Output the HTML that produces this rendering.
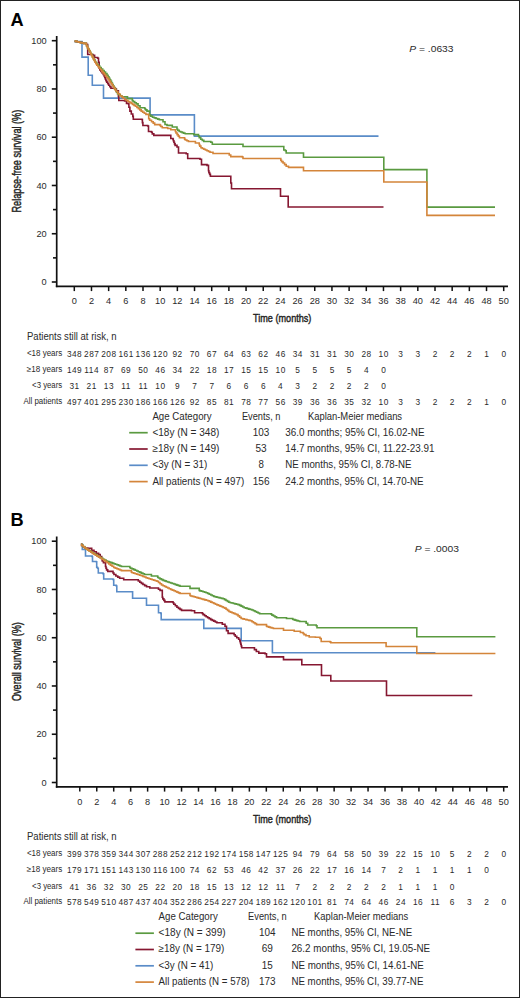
<!DOCTYPE html>
<html><head><meta charset="utf-8"><title>Kaplan-Meier</title>
<style>
html,body{margin:0;padding:0;background:#fff;}
body{width:520px;height:998px;overflow:hidden;}
svg{display:block;font-family:"Liberation Sans",sans-serif;}
text{fill:#2a2a2a;}
</style></head><body>
<svg width="520" height="998" viewBox="0 0 520 998">
<rect x="0.5" y="0.5" width="519" height="997" fill="#fff" stroke="#222" stroke-width="1"/>
<text x="10.6" y="25.6" font-size="18.2" font-weight="bold" style="fill:#000" >A</text>
<path d="M56.7 36V287.15" stroke="#111" stroke-width="1.7" fill="none"/>
<path d="M55.85 286.3H508" stroke="#111" stroke-width="1.7" fill="none"/>
<path d="M51.8 282H56.7" stroke="#111" stroke-width="1.6"/>
<text x="46.7" y="285.2" font-size="9.2" text-anchor="end" >0</text>
<path d="M53 257.87H56.7" stroke="#111" stroke-width="1.6"/>
<path d="M51.8 233.74H56.7" stroke="#111" stroke-width="1.6"/>
<text x="46.7" y="236.94" font-size="9.2" text-anchor="end" >20</text>
<path d="M53 209.61H56.7" stroke="#111" stroke-width="1.6"/>
<path d="M51.8 185.48H56.7" stroke="#111" stroke-width="1.6"/>
<text x="46.7" y="188.68" font-size="9.2" text-anchor="end" >40</text>
<path d="M53 161.35H56.7" stroke="#111" stroke-width="1.6"/>
<path d="M51.8 137.22H56.7" stroke="#111" stroke-width="1.6"/>
<text x="46.7" y="140.42" font-size="9.2" text-anchor="end" >60</text>
<path d="M53 113.09H56.7" stroke="#111" stroke-width="1.6"/>
<path d="M51.8 88.96H56.7" stroke="#111" stroke-width="1.6"/>
<text x="46.7" y="92.16" font-size="9.2" text-anchor="end" >80</text>
<path d="M53 64.83H56.7" stroke="#111" stroke-width="1.6"/>
<path d="M51.8 40.7H56.7" stroke="#111" stroke-width="1.6"/>
<text x="46.7" y="43.9" font-size="9.2" text-anchor="end" >100</text>
<path d="M74.3 286.3V291.1" stroke="#111" stroke-width="1.5"/>
<text x="74.3" y="304.3" font-size="9.2" text-anchor="middle" >0</text>
<path d="M91.48 286.3V291.1" stroke="#111" stroke-width="1.5"/>
<text x="91.48" y="304.3" font-size="9.2" text-anchor="middle" >2</text>
<path d="M108.65 286.3V291.1" stroke="#111" stroke-width="1.5"/>
<text x="108.65" y="304.3" font-size="9.2" text-anchor="middle" >4</text>
<path d="M125.83 286.3V291.1" stroke="#111" stroke-width="1.5"/>
<text x="125.83" y="304.3" font-size="9.2" text-anchor="middle" >6</text>
<path d="M143 286.3V291.1" stroke="#111" stroke-width="1.5"/>
<text x="143" y="304.3" font-size="9.2" text-anchor="middle" >8</text>
<path d="M160.18 286.3V291.1" stroke="#111" stroke-width="1.5"/>
<text x="160.18" y="304.3" font-size="9.2" text-anchor="middle" >10</text>
<path d="M177.36 286.3V291.1" stroke="#111" stroke-width="1.5"/>
<text x="177.36" y="304.3" font-size="9.2" text-anchor="middle" >12</text>
<path d="M194.53 286.3V291.1" stroke="#111" stroke-width="1.5"/>
<text x="194.53" y="304.3" font-size="9.2" text-anchor="middle" >14</text>
<path d="M211.71 286.3V291.1" stroke="#111" stroke-width="1.5"/>
<text x="211.71" y="304.3" font-size="9.2" text-anchor="middle" >16</text>
<path d="M228.88 286.3V291.1" stroke="#111" stroke-width="1.5"/>
<text x="228.88" y="304.3" font-size="9.2" text-anchor="middle" >18</text>
<path d="M246.06 286.3V291.1" stroke="#111" stroke-width="1.5"/>
<text x="246.06" y="304.3" font-size="9.2" text-anchor="middle" >20</text>
<path d="M263.24 286.3V291.1" stroke="#111" stroke-width="1.5"/>
<text x="263.24" y="304.3" font-size="9.2" text-anchor="middle" >22</text>
<path d="M280.41 286.3V291.1" stroke="#111" stroke-width="1.5"/>
<text x="280.41" y="304.3" font-size="9.2" text-anchor="middle" >24</text>
<path d="M297.59 286.3V291.1" stroke="#111" stroke-width="1.5"/>
<text x="297.59" y="304.3" font-size="9.2" text-anchor="middle" >26</text>
<path d="M314.76 286.3V291.1" stroke="#111" stroke-width="1.5"/>
<text x="314.76" y="304.3" font-size="9.2" text-anchor="middle" >28</text>
<path d="M331.94 286.3V291.1" stroke="#111" stroke-width="1.5"/>
<text x="331.94" y="304.3" font-size="9.2" text-anchor="middle" >30</text>
<path d="M349.12 286.3V291.1" stroke="#111" stroke-width="1.5"/>
<text x="349.12" y="304.3" font-size="9.2" text-anchor="middle" >32</text>
<path d="M366.29 286.3V291.1" stroke="#111" stroke-width="1.5"/>
<text x="366.29" y="304.3" font-size="9.2" text-anchor="middle" >34</text>
<path d="M383.47 286.3V291.1" stroke="#111" stroke-width="1.5"/>
<text x="383.47" y="304.3" font-size="9.2" text-anchor="middle" >36</text>
<path d="M400.64 286.3V291.1" stroke="#111" stroke-width="1.5"/>
<text x="400.64" y="304.3" font-size="9.2" text-anchor="middle" >38</text>
<path d="M417.82 286.3V291.1" stroke="#111" stroke-width="1.5"/>
<text x="417.82" y="304.3" font-size="9.2" text-anchor="middle" >40</text>
<path d="M435 286.3V291.1" stroke="#111" stroke-width="1.5"/>
<text x="435" y="304.3" font-size="9.2" text-anchor="middle" >42</text>
<path d="M452.17 286.3V291.1" stroke="#111" stroke-width="1.5"/>
<text x="452.17" y="304.3" font-size="9.2" text-anchor="middle" >44</text>
<path d="M469.35 286.3V291.1" stroke="#111" stroke-width="1.5"/>
<text x="469.35" y="304.3" font-size="9.2" text-anchor="middle" >46</text>
<path d="M486.52 286.3V291.1" stroke="#111" stroke-width="1.5"/>
<text x="486.52" y="304.3" font-size="9.2" text-anchor="middle" >48</text>
<path d="M503.7 286.3V291.1" stroke="#111" stroke-width="1.5"/>
<text x="503.7" y="304.3" font-size="9.2" text-anchor="middle" >50</text>
<text x="253" y="322.3" font-size="11.6"  stroke="#231f20" stroke-width="0.45" textLength="58.4" lengthAdjust="spacingAndGlyphs">Time (months)</text>
<text x="0" y="0" font-size="12.2" font-weight="normal" textLength="102.8" lengthAdjust="spacingAndGlyphs" transform="translate(21.0 212.5) rotate(-90)" stroke="#231f20" stroke-width="0.45">Relapse-free survival (%)</text>
<text x="409.3" y="51.9" font-size="9.6" textLength="44.2" lengthAdjust="spacingAndGlyphs"><tspan font-style="italic">P</tspan> = .0633</text>
<path d="M74.6 41.6H82V41.6H82V57.1H88.2V57.1H88.2V75.2H92.3V75.2H92.3V85.2H103.5V85.2H103.5V98.1H150.1V98.1H150.1V114.9H194.4V114.9H194.4V136.1H378.5V136.1" fill="none" stroke="#5a8cc8" stroke-width="1.6" stroke-linejoin="miter" stroke-linecap="butt"/>
<path d="M74.6 41H75.43V41.4H77.1V41.8H78.77V42.2H80.43V42.6H82.1V43H83.77V43.4H84.6H86.5V44.5H87.7V54.5H93V55.2H94.6V57.5H97.7V58.3H98.5V62.2H99.2V68.3H99.78V69.85H100.92V71.4H102.08V72.95H103.22V74.5H103.8H104.1V76.03H104.7V77.55H105.3V79.07H105.9V80.6H106.2H106.7V82.13H107.7V83.67H108.7V85.2H109.2H109.78V86.75H110.92V88.3H111.5H115.4V89H116.4V90.9H118.4V96.7H118.8V100.5H124.6V101H126.5V103.4H128.5V103.9H128.9V107.2H129.9V111.1H131.3V114H132.8V116.4H133.3V119.3H141.9V119.5H142.4V122.6H142.9V125.5H147.7V126H148.5V131.5H151.5V132.3H152.28V133.85H153.82V135.4H154.6H170V135.4H170.8V138.5H173V139.2H173.3V140.75H173.9V142.3H174.5V143.85H175.1V145.4H175.4H177V147H178.5V153H186.2V153.8H187.7V158.5H200V159.2H201.5V164.6H207V165.4H208.5V170.8H208.88V172.6H209.65V174.4H210.42V176.2H210.8H230V176.2H230.8V183H231.5V188.8H280V188.8H280.5V196.2H287.7V196.2H288.2V207H383.5V207" fill="none" stroke="#861731" stroke-width="1.6" stroke-linejoin="miter" stroke-linecap="butt"/>
<path d="M74.6 41H75.43V41.4H77.1V41.8H78.77V42.2H80.43V42.6H82.1V43H83.77V43.4H84.6H86.2V44.5H86.62V46.04H87.45V47.58H88.28V49.12H89.12V50.67H89.95V52.21H90.78V53.75H91.62V55.29H92.45V56.83H93.28V58.38H94.12V59.92H94.95V61.46H95.78V63H96.2H96.92V64.53H98.36V66.05H99.79V67.58H101.23V69.1H102.67V70.62H104.11V72.15H105.54V73.67H106.98V75.2H107.7H108.12V76.75H108.98V78.3H109.83V79.85H110.67V81.4H111.53V82.95H112.38V84.5H113.23V86.05H114.08V87.6H114.93V89.15H115.78V90.7H116.62V92.25H117.48V93.8H117.9H118.7V94.77H120.3V95.73H121.9V96.7H122.7H127.5V98.6H132.3V100.5H133.1V101.63H134.7V102.77H136.3V103.9H137.1H138.07V105.8H140.03V107.7H141H144.8V108.7H145.53V109.9H146.97V111.1H147.7H149.6V114.9H150.57V116.1H152.53V117.3H153.5H154.34V117.9H156.01V118.5H157.69V119.1H159.36V119.7H160.2H163V121.7H165V124.5H167V125.4H172.3V127H177V129.2H177.75V130.35H179.25V131.5H180H180.75V132.07H182.25V132.65H183.75V133.23H185.25V133.8H186H193.8V134.6H198.5V136H199.25V137.6H200.75V139.2H201.5H202.28V140.35H203.82V141.5H204.6H210.8V142.3H212.3V144.3H242.3V144.3H243V146.5H282.3V146.5H283.8V150H285.4V150.8H286.2V153H303V153H303.5V157.2H383.8V157.2H383.8V169.6H426.7V169.6H426.9V207.1H495V207.1" fill="none" stroke="#5a9a40" stroke-width="1.6" stroke-linejoin="miter" stroke-linecap="butt"/>
<path d="M74.6 41H75.43V41.4H77.1V41.8H78.77V42.2H80.43V42.6H82.1V43H83.77V43.4H84.6H86.2V44.5H86.62V46.1H87.45V47.7H88.28V49.3H89.12V50.9H89.95V52.5H90.78V54.1H91.62V55.7H92.45V57.3H93.28V58.9H94.12V60.5H94.95V62.1H95.78V63.7H96.2H96.81V65.23H98.05V66.76H99.28V68.29H100.5V69.82H101.73V71.35H102.97V72.88H104.2V74.41H105.42V75.94H106.66V77.47H107.89V79H108.5H109.03V80.6H110.08V82.2H111.12V83.8H112.17V85.4H113.23V87H114.28V88.6H115.33V90.2H116.38V91.8H116.9H117.88V93.75H119.83V95.7H120.8H121.6V96.97H123.2V98.23H124.8V99.5H125.6H126.4V100.47H128V101.43H129.6V102.4H130.4H131.12V103.38H132.57V104.35H134.03V105.33H135.47V106.3H136.2H136.91V107.5H138.34V108.7H139.76V109.9H141.19V111.1H141.9H142.7V112.2H144.3V113.3H145.9V114.4H146.7H148.7V118.8H149.65V120.25H151.55V121.7H152.5H153.22V123.15H154.68V124.6H155.4H160V125.4H160.75V126.55H162.25V127.7H163H167.7V128.5H170.8V129.7H175.4V131.5H175.97V133.05H177.12V134.6H177.7H178.27V136.15H179.43V137.7H180H184.6V139.2H185.37V139.97H186.9V140.73H188.43V141.5H189.2H195.4V143H199.2V144.6H199.77V146.15H200.93V147.7H201.5H202.28V148.47H203.85V149.23H205.42V150H206.2H206.97V150.77H208.5V151.53H210.03V152.3H210.8H213V153.5H228.5V153.5H229.25V155.05H230.75V156.6H231.5H242.3V157H243V158.5H279.2V158.5H280.8V160.3H281.55V161.65H283.05V163H283.8H284.6V164.6H286.2V166.2H287H288.5V167.4H303V167.4H303.5V170.8H383.8V170.8H383.8V182H426.7V182H426.9V215.4H495V215.4" fill="none" stroke="#d4853a" stroke-width="1.6" stroke-linejoin="miter" stroke-linecap="butt"/>
<text x="27" y="339.6" font-size="10"  textLength="89.6" lengthAdjust="spacingAndGlyphs">Patients still at risk, n</text>
<text x="62.2" y="355.5" font-size="8.3" text-anchor="end"  textLength="35.3" lengthAdjust="spacingAndGlyphs">&lt;18 years</text>
<text x="74.55" y="356.6" font-size="8.3" text-anchor="middle" letter-spacing="0.5">348</text>
<text x="91.73" y="356.6" font-size="8.3" text-anchor="middle" letter-spacing="0.5">287</text>
<text x="108.9" y="356.6" font-size="8.3" text-anchor="middle" letter-spacing="0.5">208</text>
<text x="126.08" y="356.6" font-size="8.3" text-anchor="middle" letter-spacing="0.5">161</text>
<text x="143.25" y="356.6" font-size="8.3" text-anchor="middle" letter-spacing="0.5">136</text>
<text x="160.43" y="356.6" font-size="8.3" text-anchor="middle" letter-spacing="0.5">120</text>
<text x="177.61" y="356.6" font-size="8.3" text-anchor="middle" letter-spacing="0.5">92</text>
<text x="194.78" y="356.6" font-size="8.3" text-anchor="middle" letter-spacing="0.5">70</text>
<text x="211.96" y="356.6" font-size="8.3" text-anchor="middle" letter-spacing="0.5">67</text>
<text x="229.13" y="356.6" font-size="8.3" text-anchor="middle" letter-spacing="0.5">64</text>
<text x="246.31" y="356.6" font-size="8.3" text-anchor="middle" letter-spacing="0.5">63</text>
<text x="263.49" y="356.6" font-size="8.3" text-anchor="middle" letter-spacing="0.5">62</text>
<text x="280.66" y="356.6" font-size="8.3" text-anchor="middle" letter-spacing="0.5">46</text>
<text x="297.84" y="356.6" font-size="8.3" text-anchor="middle" letter-spacing="0.5">34</text>
<text x="315.01" y="356.6" font-size="8.3" text-anchor="middle" letter-spacing="0.5">31</text>
<text x="332.19" y="356.6" font-size="8.3" text-anchor="middle" letter-spacing="0.5">31</text>
<text x="349.37" y="356.6" font-size="8.3" text-anchor="middle" letter-spacing="0.5">30</text>
<text x="366.54" y="356.6" font-size="8.3" text-anchor="middle" letter-spacing="0.5">28</text>
<text x="383.72" y="356.6" font-size="8.3" text-anchor="middle" letter-spacing="0.5">10</text>
<text x="400.89" y="356.6" font-size="8.3" text-anchor="middle" letter-spacing="0.5">3</text>
<text x="418.07" y="356.6" font-size="8.3" text-anchor="middle" letter-spacing="0.5">3</text>
<text x="435.25" y="356.6" font-size="8.3" text-anchor="middle" letter-spacing="0.5">2</text>
<text x="452.42" y="356.6" font-size="8.3" text-anchor="middle" letter-spacing="0.5">2</text>
<text x="469.6" y="356.6" font-size="8.3" text-anchor="middle" letter-spacing="0.5">2</text>
<text x="486.77" y="356.6" font-size="8.3" text-anchor="middle" letter-spacing="0.5">1</text>
<text x="503.95" y="356.6" font-size="8.3" text-anchor="middle" letter-spacing="0.5">0</text>
<text x="62.2" y="371.7" font-size="8.3" text-anchor="end"  textLength="35.4" lengthAdjust="spacingAndGlyphs">≥18 years</text>
<text x="74.55" y="372.8" font-size="8.3" text-anchor="middle" letter-spacing="0.5">149</text>
<text x="91.73" y="372.8" font-size="8.3" text-anchor="middle" letter-spacing="0.5">114</text>
<text x="108.9" y="372.8" font-size="8.3" text-anchor="middle" letter-spacing="0.5">87</text>
<text x="126.08" y="372.8" font-size="8.3" text-anchor="middle" letter-spacing="0.5">69</text>
<text x="143.25" y="372.8" font-size="8.3" text-anchor="middle" letter-spacing="0.5">50</text>
<text x="160.43" y="372.8" font-size="8.3" text-anchor="middle" letter-spacing="0.5">46</text>
<text x="177.61" y="372.8" font-size="8.3" text-anchor="middle" letter-spacing="0.5">34</text>
<text x="194.78" y="372.8" font-size="8.3" text-anchor="middle" letter-spacing="0.5">22</text>
<text x="211.96" y="372.8" font-size="8.3" text-anchor="middle" letter-spacing="0.5">18</text>
<text x="229.13" y="372.8" font-size="8.3" text-anchor="middle" letter-spacing="0.5">17</text>
<text x="246.31" y="372.8" font-size="8.3" text-anchor="middle" letter-spacing="0.5">15</text>
<text x="263.49" y="372.8" font-size="8.3" text-anchor="middle" letter-spacing="0.5">15</text>
<text x="280.66" y="372.8" font-size="8.3" text-anchor="middle" letter-spacing="0.5">10</text>
<text x="297.84" y="372.8" font-size="8.3" text-anchor="middle" letter-spacing="0.5">5</text>
<text x="315.01" y="372.8" font-size="8.3" text-anchor="middle" letter-spacing="0.5">5</text>
<text x="332.19" y="372.8" font-size="8.3" text-anchor="middle" letter-spacing="0.5">5</text>
<text x="349.37" y="372.8" font-size="8.3" text-anchor="middle" letter-spacing="0.5">5</text>
<text x="366.54" y="372.8" font-size="8.3" text-anchor="middle" letter-spacing="0.5">4</text>
<text x="383.72" y="372.8" font-size="8.3" text-anchor="middle" letter-spacing="0.5">0</text>
<text x="62.2" y="388.1" font-size="8.3" text-anchor="end"  textLength="30.1" lengthAdjust="spacingAndGlyphs">&lt;3 years</text>
<text x="74.55" y="389.2" font-size="8.3" text-anchor="middle" letter-spacing="0.5">31</text>
<text x="91.73" y="389.2" font-size="8.3" text-anchor="middle" letter-spacing="0.5">21</text>
<text x="108.9" y="389.2" font-size="8.3" text-anchor="middle" letter-spacing="0.5">13</text>
<text x="126.08" y="389.2" font-size="8.3" text-anchor="middle" letter-spacing="0.5">11</text>
<text x="143.25" y="389.2" font-size="8.3" text-anchor="middle" letter-spacing="0.5">11</text>
<text x="160.43" y="389.2" font-size="8.3" text-anchor="middle" letter-spacing="0.5">10</text>
<text x="177.61" y="389.2" font-size="8.3" text-anchor="middle" letter-spacing="0.5">9</text>
<text x="194.78" y="389.2" font-size="8.3" text-anchor="middle" letter-spacing="0.5">7</text>
<text x="211.96" y="389.2" font-size="8.3" text-anchor="middle" letter-spacing="0.5">7</text>
<text x="229.13" y="389.2" font-size="8.3" text-anchor="middle" letter-spacing="0.5">6</text>
<text x="246.31" y="389.2" font-size="8.3" text-anchor="middle" letter-spacing="0.5">6</text>
<text x="263.49" y="389.2" font-size="8.3" text-anchor="middle" letter-spacing="0.5">6</text>
<text x="280.66" y="389.2" font-size="8.3" text-anchor="middle" letter-spacing="0.5">4</text>
<text x="297.84" y="389.2" font-size="8.3" text-anchor="middle" letter-spacing="0.5">3</text>
<text x="315.01" y="389.2" font-size="8.3" text-anchor="middle" letter-spacing="0.5">2</text>
<text x="332.19" y="389.2" font-size="8.3" text-anchor="middle" letter-spacing="0.5">2</text>
<text x="349.37" y="389.2" font-size="8.3" text-anchor="middle" letter-spacing="0.5">2</text>
<text x="366.54" y="389.2" font-size="8.3" text-anchor="middle" letter-spacing="0.5">2</text>
<text x="383.72" y="389.2" font-size="8.3" text-anchor="middle" letter-spacing="0.5">0</text>
<text x="62.2" y="403.6" font-size="8.3" text-anchor="end"  textLength="38.8" lengthAdjust="spacingAndGlyphs">All patients</text>
<text x="74.55" y="404.7" font-size="8.3" text-anchor="middle" letter-spacing="0.5">497</text>
<text x="91.73" y="404.7" font-size="8.3" text-anchor="middle" letter-spacing="0.5">401</text>
<text x="108.9" y="404.7" font-size="8.3" text-anchor="middle" letter-spacing="0.5">295</text>
<text x="126.08" y="404.7" font-size="8.3" text-anchor="middle" letter-spacing="0.5">230</text>
<text x="143.25" y="404.7" font-size="8.3" text-anchor="middle" letter-spacing="0.5">186</text>
<text x="160.43" y="404.7" font-size="8.3" text-anchor="middle" letter-spacing="0.5">166</text>
<text x="177.61" y="404.7" font-size="8.3" text-anchor="middle" letter-spacing="0.5">126</text>
<text x="194.78" y="404.7" font-size="8.3" text-anchor="middle" letter-spacing="0.5">92</text>
<text x="211.96" y="404.7" font-size="8.3" text-anchor="middle" letter-spacing="0.5">85</text>
<text x="229.13" y="404.7" font-size="8.3" text-anchor="middle" letter-spacing="0.5">81</text>
<text x="246.31" y="404.7" font-size="8.3" text-anchor="middle" letter-spacing="0.5">78</text>
<text x="263.49" y="404.7" font-size="8.3" text-anchor="middle" letter-spacing="0.5">77</text>
<text x="280.66" y="404.7" font-size="8.3" text-anchor="middle" letter-spacing="0.5">56</text>
<text x="297.84" y="404.7" font-size="8.3" text-anchor="middle" letter-spacing="0.5">39</text>
<text x="315.01" y="404.7" font-size="8.3" text-anchor="middle" letter-spacing="0.5">36</text>
<text x="332.19" y="404.7" font-size="8.3" text-anchor="middle" letter-spacing="0.5">36</text>
<text x="349.37" y="404.7" font-size="8.3" text-anchor="middle" letter-spacing="0.5">35</text>
<text x="366.54" y="404.7" font-size="8.3" text-anchor="middle" letter-spacing="0.5">32</text>
<text x="383.72" y="404.7" font-size="8.3" text-anchor="middle" letter-spacing="0.5">10</text>
<text x="400.89" y="404.7" font-size="8.3" text-anchor="middle" letter-spacing="0.5">3</text>
<text x="418.07" y="404.7" font-size="8.3" text-anchor="middle" letter-spacing="0.5">3</text>
<text x="435.25" y="404.7" font-size="8.3" text-anchor="middle" letter-spacing="0.5">2</text>
<text x="452.42" y="404.7" font-size="8.3" text-anchor="middle" letter-spacing="0.5">2</text>
<text x="469.6" y="404.7" font-size="8.3" text-anchor="middle" letter-spacing="0.5">2</text>
<text x="486.77" y="404.7" font-size="8.3" text-anchor="middle" letter-spacing="0.5">1</text>
<text x="503.95" y="404.7" font-size="8.3" text-anchor="middle" letter-spacing="0.5">0</text>
<text x="152.4" y="419.9" font-size="10.2"  textLength="59.2" lengthAdjust="spacingAndGlyphs">Age Category</text>
<text x="241.9" y="419.9" font-size="10.2"  textLength="38.6" lengthAdjust="spacingAndGlyphs">Events, n</text>
<text x="307.9" y="419.9" font-size="10.2"  textLength="94.2" lengthAdjust="spacingAndGlyphs">Kaplan-Meier medians</text>
<path d="M129.2 432.7H147.7" stroke="#5a9a40" stroke-width="1.7"/>
<text x="152.4" y="435.6" font-size="10.2"  textLength="67" lengthAdjust="spacingAndGlyphs">&lt;18y (N = 348)</text>
<text x="261.1" y="435.6" font-size="10.2" text-anchor="middle"  textLength="16.6" lengthAdjust="spacingAndGlyphs">103</text>
<text x="285.2" y="435.6" font-size="10.2"  textLength="139.3" lengthAdjust="spacingAndGlyphs">36.0 months; 95% CI, 16.02-NE</text>
<path d="M129.2 449H147.7" stroke="#861731" stroke-width="1.7"/>
<text x="152.4" y="451.9" font-size="10.2"  textLength="67" lengthAdjust="spacingAndGlyphs">≥18y (N = 149)</text>
<text x="261.1" y="451.9" font-size="10.2" text-anchor="middle"  textLength="11.2" lengthAdjust="spacingAndGlyphs">53</text>
<text x="285.2" y="451.9" font-size="10.2"  textLength="149.3" lengthAdjust="spacingAndGlyphs">14.7 months, 95% CI, 11.22-23.91</text>
<path d="M129.2 465.3H147.7" stroke="#5a8cc8" stroke-width="1.7"/>
<text x="152.4" y="468.2" font-size="10.2"  textLength="54.8" lengthAdjust="spacingAndGlyphs">&lt;3y (N = 31)</text>
<text x="261.1" y="468.2" font-size="10.2" text-anchor="middle"  textLength="5.4" lengthAdjust="spacingAndGlyphs">8</text>
<text x="285.2" y="468.2" font-size="10.2"  textLength="126.3" lengthAdjust="spacingAndGlyphs">NE months, 95% CI, 8.78-NE</text>
<path d="M129.2 481.6H147.7" stroke="#d4853a" stroke-width="1.7"/>
<text x="152.4" y="484.5" font-size="10.2"  textLength="91.8" lengthAdjust="spacingAndGlyphs">All patients (N = 497)</text>
<text x="261.1" y="484.5" font-size="10.2" text-anchor="middle"  textLength="16.8" lengthAdjust="spacingAndGlyphs">156</text>
<text x="285.2" y="484.5" font-size="10.2"  textLength="138.4" lengthAdjust="spacingAndGlyphs">24.2 months, 95% CI, 14.70-NE</text>
<text x="10.5" y="526.1" font-size="18.2" font-weight="bold" style="fill:#000" >B</text>
<path d="M56.7 536.5V787.65" stroke="#111" stroke-width="1.7" fill="none"/>
<path d="M55.85 786.8H508" stroke="#111" stroke-width="1.7" fill="none"/>
<path d="M51.8 782.5H56.7" stroke="#111" stroke-width="1.6"/>
<text x="46.7" y="785.7" font-size="9.2" text-anchor="end" >0</text>
<path d="M53 758.37H56.7" stroke="#111" stroke-width="1.6"/>
<path d="M51.8 734.24H56.7" stroke="#111" stroke-width="1.6"/>
<text x="46.7" y="737.44" font-size="9.2" text-anchor="end" >20</text>
<path d="M53 710.11H56.7" stroke="#111" stroke-width="1.6"/>
<path d="M51.8 685.98H56.7" stroke="#111" stroke-width="1.6"/>
<text x="46.7" y="689.18" font-size="9.2" text-anchor="end" >40</text>
<path d="M53 661.85H56.7" stroke="#111" stroke-width="1.6"/>
<path d="M51.8 637.72H56.7" stroke="#111" stroke-width="1.6"/>
<text x="46.7" y="640.92" font-size="9.2" text-anchor="end" >60</text>
<path d="M53 613.59H56.7" stroke="#111" stroke-width="1.6"/>
<path d="M51.8 589.46H56.7" stroke="#111" stroke-width="1.6"/>
<text x="46.7" y="592.66" font-size="9.2" text-anchor="end" >80</text>
<path d="M53 565.33H56.7" stroke="#111" stroke-width="1.6"/>
<path d="M51.8 541.2H56.7" stroke="#111" stroke-width="1.6"/>
<text x="46.7" y="544.4" font-size="9.2" text-anchor="end" >100</text>
<path d="M79.8 786.8V791.6" stroke="#111" stroke-width="1.5"/>
<text x="79.8" y="804.8" font-size="9.2" text-anchor="middle" >0</text>
<path d="M96.76 786.8V791.6" stroke="#111" stroke-width="1.5"/>
<text x="96.76" y="804.8" font-size="9.2" text-anchor="middle" >2</text>
<path d="M113.71 786.8V791.6" stroke="#111" stroke-width="1.5"/>
<text x="113.71" y="804.8" font-size="9.2" text-anchor="middle" >4</text>
<path d="M130.67 786.8V791.6" stroke="#111" stroke-width="1.5"/>
<text x="130.67" y="804.8" font-size="9.2" text-anchor="middle" >6</text>
<path d="M147.62 786.8V791.6" stroke="#111" stroke-width="1.5"/>
<text x="147.62" y="804.8" font-size="9.2" text-anchor="middle" >8</text>
<path d="M164.58 786.8V791.6" stroke="#111" stroke-width="1.5"/>
<text x="164.58" y="804.8" font-size="9.2" text-anchor="middle" >10</text>
<path d="M181.54 786.8V791.6" stroke="#111" stroke-width="1.5"/>
<text x="181.54" y="804.8" font-size="9.2" text-anchor="middle" >12</text>
<path d="M198.49 786.8V791.6" stroke="#111" stroke-width="1.5"/>
<text x="198.49" y="804.8" font-size="9.2" text-anchor="middle" >14</text>
<path d="M215.45 786.8V791.6" stroke="#111" stroke-width="1.5"/>
<text x="215.45" y="804.8" font-size="9.2" text-anchor="middle" >16</text>
<path d="M232.4 786.8V791.6" stroke="#111" stroke-width="1.5"/>
<text x="232.4" y="804.8" font-size="9.2" text-anchor="middle" >18</text>
<path d="M249.36 786.8V791.6" stroke="#111" stroke-width="1.5"/>
<text x="249.36" y="804.8" font-size="9.2" text-anchor="middle" >20</text>
<path d="M266.32 786.8V791.6" stroke="#111" stroke-width="1.5"/>
<text x="266.32" y="804.8" font-size="9.2" text-anchor="middle" >22</text>
<path d="M283.27 786.8V791.6" stroke="#111" stroke-width="1.5"/>
<text x="283.27" y="804.8" font-size="9.2" text-anchor="middle" >24</text>
<path d="M300.23 786.8V791.6" stroke="#111" stroke-width="1.5"/>
<text x="300.23" y="804.8" font-size="9.2" text-anchor="middle" >26</text>
<path d="M317.18 786.8V791.6" stroke="#111" stroke-width="1.5"/>
<text x="317.18" y="804.8" font-size="9.2" text-anchor="middle" >28</text>
<path d="M334.14 786.8V791.6" stroke="#111" stroke-width="1.5"/>
<text x="334.14" y="804.8" font-size="9.2" text-anchor="middle" >30</text>
<path d="M351.1 786.8V791.6" stroke="#111" stroke-width="1.5"/>
<text x="351.1" y="804.8" font-size="9.2" text-anchor="middle" >32</text>
<path d="M368.05 786.8V791.6" stroke="#111" stroke-width="1.5"/>
<text x="368.05" y="804.8" font-size="9.2" text-anchor="middle" >34</text>
<path d="M385.01 786.8V791.6" stroke="#111" stroke-width="1.5"/>
<text x="385.01" y="804.8" font-size="9.2" text-anchor="middle" >36</text>
<path d="M401.96 786.8V791.6" stroke="#111" stroke-width="1.5"/>
<text x="401.96" y="804.8" font-size="9.2" text-anchor="middle" >38</text>
<path d="M418.92 786.8V791.6" stroke="#111" stroke-width="1.5"/>
<text x="418.92" y="804.8" font-size="9.2" text-anchor="middle" >40</text>
<path d="M435.88 786.8V791.6" stroke="#111" stroke-width="1.5"/>
<text x="435.88" y="804.8" font-size="9.2" text-anchor="middle" >42</text>
<path d="M452.83 786.8V791.6" stroke="#111" stroke-width="1.5"/>
<text x="452.83" y="804.8" font-size="9.2" text-anchor="middle" >44</text>
<path d="M469.79 786.8V791.6" stroke="#111" stroke-width="1.5"/>
<text x="469.79" y="804.8" font-size="9.2" text-anchor="middle" >46</text>
<path d="M486.74 786.8V791.6" stroke="#111" stroke-width="1.5"/>
<text x="486.74" y="804.8" font-size="9.2" text-anchor="middle" >48</text>
<path d="M503.7 786.8V791.6" stroke="#111" stroke-width="1.5"/>
<text x="503.7" y="804.8" font-size="9.2" text-anchor="middle" >50</text>
<text x="253" y="822.8" font-size="11.6"  stroke="#231f20" stroke-width="0.45" textLength="58.4" lengthAdjust="spacingAndGlyphs">Time (months)</text>
<text x="0" y="0" font-size="12.2" font-weight="normal" textLength="78.8" lengthAdjust="spacingAndGlyphs" transform="translate(21.0 701) rotate(-90)" stroke="#231f20" stroke-width="0.45">Overall survival (%)</text>
<text x="414.7" y="552.4" font-size="9.6" textLength="44.3" lengthAdjust="spacingAndGlyphs"><tspan font-style="italic">P</tspan> = .0003</text>
<path d="M80.9 544.2H82.3V549.5H85.5V550.7H85.5V556H92V556.5H92.5V561.5H96.3V561.8H96.7V567.2H97.5V568.3H98.3V573H103V573.7H103.7V579H113V579.5H113.7V585.2H116.3V586H116.8V591.7H132.2V591.7H132.6V598.3H146V598.3H146.5V605.2H157.7V605.3H158.5V612.7H160.8V613.5H161.2V619.6H203V619.6H203.8V628.4H240.4V628.4H241.2V640.8H271.9V640.8H272.4V652.8H435.4V652.8" fill="none" stroke="#5a8cc8" stroke-width="1.6" stroke-linejoin="miter" stroke-linecap="butt"/>
<path d="M80.9 544.2H81.67V545.47H83.2V546.73H84.73V548H85.5H87.8V548.4H91.7V550.3H94V551.8H96.3V553.4H98.6V554.5H100.2V556.5H101.7V559.5H102.28V561.05H103.42V562.6H104H105.5V566.5H106V568.3H106.58V569.85H107.72V571.4H108.3H113V573H113.95V574.5H115.85V576H116.8H117.75V577.15H119.65V578.3H120.6H123.7V579.8H137.5V579.8H138.28V581H139.82V582.2H140.6H141.38V583.35H142.92V584.5H143.7H144.65V585.65H146.55V586.8H147.5H149.8V588H157.7V588H158.47V589.2H160.03V590.4H160.8H162.3V597.3H162.82V598.83H163.85V600.37H164.88V601.9H165.4H173V602.7H173.78V604.23H175.35V605.77H176.92V607.3H177.7H178.47V608.33H180V609.37H181.53V610.4H182.3H191.5V610.8H194.6V612.7H202.3V613.5H203.08V614.65H204.62V615.8H205.4H206.16V616.75H207.69V617.7H209.21V618.65H210.74V619.6H211.5H212.28V620.38H213.82V621.15H215.38V621.93H216.92V622.7H217.7H222.3V624.2H225V626.2H226.5V630.8H228.1V633.4H233.5V633.4H234.07V634.8H235.23V636.2H235.8H236.75V637.7H238.65V639.2H239.6H239.83V640.9H240.29V642.6H240.75V644.3H241.21V646H241.67V647.7H241.9H253.5V647.7H254.45V649.6H256.35V651.5H257.3H258.8V653.1H265V653.8H266.5V656.9H281.9V656.9H283.5V659.6H301.5V659.6H301.8V664.7H320.8V664.7H321.5V675.5H330V675.5H330.8V681H386.5V681H386.5V695.5H472.3V695.5" fill="none" stroke="#861731" stroke-width="1.6" stroke-linejoin="miter" stroke-linecap="butt"/>
<path d="M80.9 544.2H81.64V545.4H83.11V546.6H84.59V547.8H86.06V549H86.8H87.57V549.94H89.11V550.88H90.65V551.82H92.19V552.76H93.73V553.7H94.5H95.26V554.65H96.79V555.6H98.31V556.55H99.84V557.5H100.6H101.38V558.38H102.92V559.25H104.47V560.12H106.02V561H106.8H107.57V561.54H109.11V562.08H110.65V562.62H112.19V563.16H113.73V563.7H114.5H115.27V564.26H116.81V564.82H118.35V565.38H119.89V565.94H121.43V566.5H122.2H129.8V567.5H130.57V568.2H132.11V568.9H133.65V569.6H135.19V570.3H136.73V571H137.5H138.27V571.7H139.81V572.4H141.35V573.1H142.89V573.8H144.43V574.5H145.2H151.4V576H157.7V577.3H158.46V578.07H159.99V578.85H161.51V579.62H163.04V580.4H163.8H164.57V580.92H166.1V581.43H167.63V581.95H169.17V582.47H170.7V582.98H172.23V583.5H173H173.78V584.04H175.34V584.58H176.9V585.12H178.46V585.66H180.02V586.2H180.8H190V588.4H199.2V590.4H199.97V590.86H201.51V591.32H203.05V591.78H204.59V592.24H206.13V592.7H206.9H207.67V593.46H209.21V594.22H210.75V594.98H212.29V595.74H213.83V596.5H214.6H215.37V596.88H216.9V597.27H218.43V597.65H219.97V598.03H221.5V598.42H223.03V598.8H223.8H224.53V599.67H225.97V600.55H227.43V601.42H228.88V602.3H229.6H230.37V602.68H231.9V603.07H233.43V603.45H234.97V603.83H236.5V604.22H238.03V604.6H238.8H239.58V605.38H241.12V606.15H242.68V606.93H244.22V607.7H245H245.77V608.16H247.31V608.62H248.85V609.08H250.39V609.54H251.93V610H252.7H253.47V610.76H255.01V611.52H256.55V612.28H258.09V613.04H259.63V613.8H260.4H271.2V614.3H271.96V615.15H273.49V616H275.01V616.85H276.54V617.7H277.3H286.5V618.5H292.7V619.2H293.47V619.66H295.01V620.12H296.55V620.58H298.09V621.04H299.63V621.5H300.4H305.4V621.6H306.17V623.3H307.73V625H308.5H316.2V625.8H317V627.8H416.8V627.8H416.8V636.7H495.4V636.7" fill="none" stroke="#5a9a40" stroke-width="1.6" stroke-linejoin="miter" stroke-linecap="butt"/>
<path d="M80.9 544.2H81.67V545.47H83.2V546.73H84.73V548H85.5H86.27V549.08H87.81V550.16H89.35V551.24H90.89V552.32H92.43V553.4H93.2H93.97V554.32H95.51V555.24H97.05V556.16H98.59V557.08H100.13V558H100.9H101.8V559.2H103.6V560.4H105.4V561.6H106.3H107.12V562.78H108.76V563.96H110.4V565.14H112.04V566.32H113.68V567.5H114.5H115.27V568.12H116.81V568.74H118.35V569.36H119.89V569.98H121.43V570.6H122.2H131.4V572.2H132.17V572.7H133.7V573.2H135.23V573.7H136.77V574.2H138.3V574.7H139.83V575.2H140.6H141.37V575.82H142.91V576.44H144.45V577.06H145.99V577.68H147.53V578.3H148.3H149.08V578.78H150.65V579.27H152.22V579.75H153.78V580.23H155.35V580.72H156.92V581.2H157.7H158.47V582.47H160V583.73H161.53V585H162.3H163.07V585.76H164.61V586.52H166.15V587.28H167.69V588.04H169.23V588.8H170H170.77V589.47H172.31V590.14H173.86V590.81H175.4V591.49H176.94V592.16H178.49V592.83H180.03V593.5H180.8H190V595.5H190.77V595.93H192.3V596.37H193.83V596.8H195.37V597.23H196.9V597.67H198.43V598.1H199.2H199.97V598.53H201.52V598.97H203.07V599.4H204.62V599.83H206.18V600.27H207.72V600.7H208.5H209.27V601.4H210.81V602.1H212.35V602.8H213.89V603.5H215.43V604.2H216.2H216.97V604.85H218.5V605.5H220.03V606.15H221.57V606.8H223.1V607.45H224.63V608.1H225.4H226.1V609.23H227.5V610.37H228.9V611.5H229.6H230.37V612.12H231.91V612.74H233.45V613.36H234.99V613.98H236.53V614.6H237.3H238.07V615.9H239.6V617.2H241.13V618.5H241.9H242.68V618.88H244.22V619.27H245.78V619.65H247.32V620.03H248.88V620.42H250.42V620.8H251.2H251.96V621.75H253.49V622.7H255.01V623.65H256.54V624.6H257.3H266.5V626.2H267.27V626.66H268.81V627.12H270.35V627.58H271.89V628.04H273.43V628.5H274.2H283.5V630.3H294.2V631.2H300.4V632.5H303.1V633.5H304.05V634.65H305.95V635.8H306.9H309.2V637H315.4V637.3H320V638.5H321.2V641.5H330V641.9H330.8V642.8H386.1V642.8H386.1V646.5H416.8V646.5H416.8V653.5H495.4V653.5" fill="none" stroke="#d4853a" stroke-width="1.6" stroke-linejoin="miter" stroke-linecap="butt"/>
<text x="27" y="840.1" font-size="10"  textLength="89.6" lengthAdjust="spacingAndGlyphs">Patients still at risk, n</text>
<text x="62.2" y="856" font-size="8.3" text-anchor="end"  textLength="35.3" lengthAdjust="spacingAndGlyphs">&lt;18 years</text>
<text x="74.55" y="857.1" font-size="8.3" text-anchor="middle" letter-spacing="0.5">399</text>
<text x="91.73" y="857.1" font-size="8.3" text-anchor="middle" letter-spacing="0.5">378</text>
<text x="108.9" y="857.1" font-size="8.3" text-anchor="middle" letter-spacing="0.5">359</text>
<text x="126.08" y="857.1" font-size="8.3" text-anchor="middle" letter-spacing="0.5">344</text>
<text x="143.25" y="857.1" font-size="8.3" text-anchor="middle" letter-spacing="0.5">307</text>
<text x="160.43" y="857.1" font-size="8.3" text-anchor="middle" letter-spacing="0.5">288</text>
<text x="177.61" y="857.1" font-size="8.3" text-anchor="middle" letter-spacing="0.5">252</text>
<text x="194.78" y="857.1" font-size="8.3" text-anchor="middle" letter-spacing="0.5">212</text>
<text x="211.96" y="857.1" font-size="8.3" text-anchor="middle" letter-spacing="0.5">192</text>
<text x="229.13" y="857.1" font-size="8.3" text-anchor="middle" letter-spacing="0.5">174</text>
<text x="246.31" y="857.1" font-size="8.3" text-anchor="middle" letter-spacing="0.5">158</text>
<text x="263.49" y="857.1" font-size="8.3" text-anchor="middle" letter-spacing="0.5">147</text>
<text x="280.66" y="857.1" font-size="8.3" text-anchor="middle" letter-spacing="0.5">125</text>
<text x="297.84" y="857.1" font-size="8.3" text-anchor="middle" letter-spacing="0.5">94</text>
<text x="315.01" y="857.1" font-size="8.3" text-anchor="middle" letter-spacing="0.5">79</text>
<text x="332.19" y="857.1" font-size="8.3" text-anchor="middle" letter-spacing="0.5">64</text>
<text x="349.37" y="857.1" font-size="8.3" text-anchor="middle" letter-spacing="0.5">58</text>
<text x="366.54" y="857.1" font-size="8.3" text-anchor="middle" letter-spacing="0.5">50</text>
<text x="383.72" y="857.1" font-size="8.3" text-anchor="middle" letter-spacing="0.5">39</text>
<text x="400.89" y="857.1" font-size="8.3" text-anchor="middle" letter-spacing="0.5">22</text>
<text x="418.07" y="857.1" font-size="8.3" text-anchor="middle" letter-spacing="0.5">15</text>
<text x="435.25" y="857.1" font-size="8.3" text-anchor="middle" letter-spacing="0.5">10</text>
<text x="452.42" y="857.1" font-size="8.3" text-anchor="middle" letter-spacing="0.5">5</text>
<text x="469.6" y="857.1" font-size="8.3" text-anchor="middle" letter-spacing="0.5">2</text>
<text x="486.77" y="857.1" font-size="8.3" text-anchor="middle" letter-spacing="0.5">2</text>
<text x="503.95" y="857.1" font-size="8.3" text-anchor="middle" letter-spacing="0.5">0</text>
<text x="62.2" y="872.2" font-size="8.3" text-anchor="end"  textLength="35.4" lengthAdjust="spacingAndGlyphs">≥18 years</text>
<text x="74.55" y="873.3" font-size="8.3" text-anchor="middle" letter-spacing="0.5">179</text>
<text x="91.73" y="873.3" font-size="8.3" text-anchor="middle" letter-spacing="0.5">171</text>
<text x="108.9" y="873.3" font-size="8.3" text-anchor="middle" letter-spacing="0.5">151</text>
<text x="126.08" y="873.3" font-size="8.3" text-anchor="middle" letter-spacing="0.5">143</text>
<text x="143.25" y="873.3" font-size="8.3" text-anchor="middle" letter-spacing="0.5">130</text>
<text x="160.43" y="873.3" font-size="8.3" text-anchor="middle" letter-spacing="0.5">116</text>
<text x="177.61" y="873.3" font-size="8.3" text-anchor="middle" letter-spacing="0.5">100</text>
<text x="194.78" y="873.3" font-size="8.3" text-anchor="middle" letter-spacing="0.5">74</text>
<text x="211.96" y="873.3" font-size="8.3" text-anchor="middle" letter-spacing="0.5">62</text>
<text x="229.13" y="873.3" font-size="8.3" text-anchor="middle" letter-spacing="0.5">53</text>
<text x="246.31" y="873.3" font-size="8.3" text-anchor="middle" letter-spacing="0.5">46</text>
<text x="263.49" y="873.3" font-size="8.3" text-anchor="middle" letter-spacing="0.5">42</text>
<text x="280.66" y="873.3" font-size="8.3" text-anchor="middle" letter-spacing="0.5">37</text>
<text x="297.84" y="873.3" font-size="8.3" text-anchor="middle" letter-spacing="0.5">26</text>
<text x="315.01" y="873.3" font-size="8.3" text-anchor="middle" letter-spacing="0.5">22</text>
<text x="332.19" y="873.3" font-size="8.3" text-anchor="middle" letter-spacing="0.5">17</text>
<text x="349.37" y="873.3" font-size="8.3" text-anchor="middle" letter-spacing="0.5">16</text>
<text x="366.54" y="873.3" font-size="8.3" text-anchor="middle" letter-spacing="0.5">14</text>
<text x="383.72" y="873.3" font-size="8.3" text-anchor="middle" letter-spacing="0.5">7</text>
<text x="400.89" y="873.3" font-size="8.3" text-anchor="middle" letter-spacing="0.5">2</text>
<text x="418.07" y="873.3" font-size="8.3" text-anchor="middle" letter-spacing="0.5">1</text>
<text x="435.25" y="873.3" font-size="8.3" text-anchor="middle" letter-spacing="0.5">1</text>
<text x="452.42" y="873.3" font-size="8.3" text-anchor="middle" letter-spacing="0.5">1</text>
<text x="469.6" y="873.3" font-size="8.3" text-anchor="middle" letter-spacing="0.5">1</text>
<text x="486.77" y="873.3" font-size="8.3" text-anchor="middle" letter-spacing="0.5">0</text>
<text x="62.2" y="888.6" font-size="8.3" text-anchor="end"  textLength="30.1" lengthAdjust="spacingAndGlyphs">&lt;3 years</text>
<text x="74.55" y="889.7" font-size="8.3" text-anchor="middle" letter-spacing="0.5">41</text>
<text x="91.73" y="889.7" font-size="8.3" text-anchor="middle" letter-spacing="0.5">36</text>
<text x="108.9" y="889.7" font-size="8.3" text-anchor="middle" letter-spacing="0.5">32</text>
<text x="126.08" y="889.7" font-size="8.3" text-anchor="middle" letter-spacing="0.5">30</text>
<text x="143.25" y="889.7" font-size="8.3" text-anchor="middle" letter-spacing="0.5">25</text>
<text x="160.43" y="889.7" font-size="8.3" text-anchor="middle" letter-spacing="0.5">22</text>
<text x="177.61" y="889.7" font-size="8.3" text-anchor="middle" letter-spacing="0.5">20</text>
<text x="194.78" y="889.7" font-size="8.3" text-anchor="middle" letter-spacing="0.5">18</text>
<text x="211.96" y="889.7" font-size="8.3" text-anchor="middle" letter-spacing="0.5">15</text>
<text x="229.13" y="889.7" font-size="8.3" text-anchor="middle" letter-spacing="0.5">13</text>
<text x="246.31" y="889.7" font-size="8.3" text-anchor="middle" letter-spacing="0.5">12</text>
<text x="263.49" y="889.7" font-size="8.3" text-anchor="middle" letter-spacing="0.5">12</text>
<text x="280.66" y="889.7" font-size="8.3" text-anchor="middle" letter-spacing="0.5">11</text>
<text x="297.84" y="889.7" font-size="8.3" text-anchor="middle" letter-spacing="0.5">7</text>
<text x="315.01" y="889.7" font-size="8.3" text-anchor="middle" letter-spacing="0.5">2</text>
<text x="332.19" y="889.7" font-size="8.3" text-anchor="middle" letter-spacing="0.5">2</text>
<text x="349.37" y="889.7" font-size="8.3" text-anchor="middle" letter-spacing="0.5">2</text>
<text x="366.54" y="889.7" font-size="8.3" text-anchor="middle" letter-spacing="0.5">2</text>
<text x="383.72" y="889.7" font-size="8.3" text-anchor="middle" letter-spacing="0.5">2</text>
<text x="400.89" y="889.7" font-size="8.3" text-anchor="middle" letter-spacing="0.5">1</text>
<text x="418.07" y="889.7" font-size="8.3" text-anchor="middle" letter-spacing="0.5">1</text>
<text x="435.25" y="889.7" font-size="8.3" text-anchor="middle" letter-spacing="0.5">1</text>
<text x="452.42" y="889.7" font-size="8.3" text-anchor="middle" letter-spacing="0.5">0</text>
<text x="62.2" y="904.1" font-size="8.3" text-anchor="end"  textLength="38.8" lengthAdjust="spacingAndGlyphs">All patients</text>
<text x="74.55" y="905.2" font-size="8.3" text-anchor="middle" letter-spacing="0.5">578</text>
<text x="91.73" y="905.2" font-size="8.3" text-anchor="middle" letter-spacing="0.5">549</text>
<text x="108.9" y="905.2" font-size="8.3" text-anchor="middle" letter-spacing="0.5">510</text>
<text x="126.08" y="905.2" font-size="8.3" text-anchor="middle" letter-spacing="0.5">487</text>
<text x="143.25" y="905.2" font-size="8.3" text-anchor="middle" letter-spacing="0.5">437</text>
<text x="160.43" y="905.2" font-size="8.3" text-anchor="middle" letter-spacing="0.5">404</text>
<text x="177.61" y="905.2" font-size="8.3" text-anchor="middle" letter-spacing="0.5">352</text>
<text x="194.78" y="905.2" font-size="8.3" text-anchor="middle" letter-spacing="0.5">286</text>
<text x="211.96" y="905.2" font-size="8.3" text-anchor="middle" letter-spacing="0.5">254</text>
<text x="229.13" y="905.2" font-size="8.3" text-anchor="middle" letter-spacing="0.5">227</text>
<text x="246.31" y="905.2" font-size="8.3" text-anchor="middle" letter-spacing="0.5">204</text>
<text x="263.49" y="905.2" font-size="8.3" text-anchor="middle" letter-spacing="0.5">189</text>
<text x="280.66" y="905.2" font-size="8.3" text-anchor="middle" letter-spacing="0.5">162</text>
<text x="297.84" y="905.2" font-size="8.3" text-anchor="middle" letter-spacing="0.5">120</text>
<text x="315.01" y="905.2" font-size="8.3" text-anchor="middle" letter-spacing="0.5">101</text>
<text x="332.19" y="905.2" font-size="8.3" text-anchor="middle" letter-spacing="0.5">81</text>
<text x="349.37" y="905.2" font-size="8.3" text-anchor="middle" letter-spacing="0.5">74</text>
<text x="366.54" y="905.2" font-size="8.3" text-anchor="middle" letter-spacing="0.5">64</text>
<text x="383.72" y="905.2" font-size="8.3" text-anchor="middle" letter-spacing="0.5">46</text>
<text x="400.89" y="905.2" font-size="8.3" text-anchor="middle" letter-spacing="0.5">24</text>
<text x="418.07" y="905.2" font-size="8.3" text-anchor="middle" letter-spacing="0.5">16</text>
<text x="435.25" y="905.2" font-size="8.3" text-anchor="middle" letter-spacing="0.5">11</text>
<text x="452.42" y="905.2" font-size="8.3" text-anchor="middle" letter-spacing="0.5">6</text>
<text x="469.6" y="905.2" font-size="8.3" text-anchor="middle" letter-spacing="0.5">3</text>
<text x="486.77" y="905.2" font-size="8.3" text-anchor="middle" letter-spacing="0.5">2</text>
<text x="503.95" y="905.2" font-size="8.3" text-anchor="middle" letter-spacing="0.5">0</text>
<text x="158.6" y="920.4" font-size="10.2"  textLength="59.2" lengthAdjust="spacingAndGlyphs">Age Category</text>
<text x="248.1" y="920.4" font-size="10.2"  textLength="38.6" lengthAdjust="spacingAndGlyphs">Events, n</text>
<text x="314.1" y="920.4" font-size="10.2"  textLength="94.2" lengthAdjust="spacingAndGlyphs">Kaplan-Meier medians</text>
<path d="M135.4 933.2H153.9" stroke="#5a9a40" stroke-width="1.7"/>
<text x="158.6" y="936.1" font-size="10.2"  textLength="67" lengthAdjust="spacingAndGlyphs">&lt;18y (N = 399)</text>
<text x="267.3" y="936.1" font-size="10.2" text-anchor="middle"  textLength="16.6" lengthAdjust="spacingAndGlyphs">104</text>
<text x="291.4" y="936.1" font-size="10.2"  textLength="120.8" lengthAdjust="spacingAndGlyphs">NE months, 95% CI, NE-NE</text>
<path d="M135.4 949.5H153.9" stroke="#861731" stroke-width="1.7"/>
<text x="158.6" y="952.4" font-size="10.2"  textLength="65.8" lengthAdjust="spacingAndGlyphs">≥18y (N = 179)</text>
<text x="267.3" y="952.4" font-size="10.2" text-anchor="middle"  textLength="11.2" lengthAdjust="spacingAndGlyphs">69</text>
<text x="291.4" y="952.4" font-size="10.2"  textLength="138.7" lengthAdjust="spacingAndGlyphs">26.2 months, 95% CI, 19.05-NE</text>
<path d="M135.4 965.8H153.9" stroke="#5a8cc8" stroke-width="1.7"/>
<text x="158.6" y="968.7" font-size="10.2"  textLength="54.6" lengthAdjust="spacingAndGlyphs">&lt;3y (N = 41)</text>
<text x="267.3" y="968.7" font-size="10.2" text-anchor="middle"  textLength="11" lengthAdjust="spacingAndGlyphs">15</text>
<text x="291.4" y="968.7" font-size="10.2"  textLength="132.4" lengthAdjust="spacingAndGlyphs">NE months, 95% CI, 14.61-NE</text>
<path d="M135.4 982.1H153.9" stroke="#d4853a" stroke-width="1.7"/>
<text x="158.6" y="985" font-size="10.2"  textLength="91" lengthAdjust="spacingAndGlyphs">All patients (N = 578)</text>
<text x="267.3" y="985" font-size="10.2" text-anchor="middle"  textLength="16.6" lengthAdjust="spacingAndGlyphs">173</text>
<text x="291.4" y="985" font-size="10.2"  textLength="132" lengthAdjust="spacingAndGlyphs">NE months, 95% CI, 39.77-NE</text>
</svg>
</body></html>
